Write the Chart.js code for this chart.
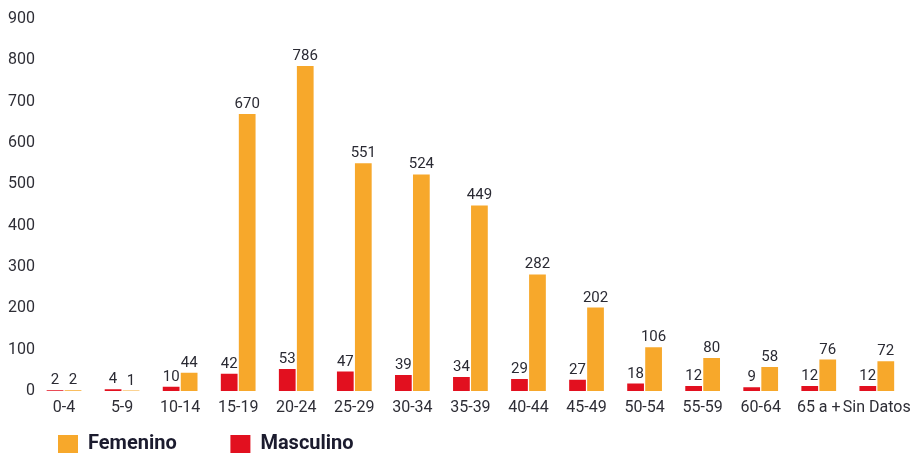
<!DOCTYPE html>
<html>
<head>
<meta charset="utf-8">
<script src="https://cdn.jsdelivr.net/npm/chart.js@4/dist/chart.umd.min.js"></script>
<style>
html,body{margin:0;padding:0;background:#fff;}
#wrap{width:918px;height:456px;}
</style>
</head>
<body>
<div id="wrap"><canvas id="c" width="918" height="456"></canvas></div>
<script>
const categories = ["0-4","5-9","10-14","15-19","20-24","25-29","30-34","35-39","40-44","45-49","50-54","55-59","60-64","65 a +","Sin Datos"];
const masculino = [2,4,10,42,53,47,39,34,29,27,18,12,9,12,12];
const femenino = [2,1,44,670,786,551,524,449,282,202,106,80,58,76,72];
const yTicks = [0,100,200,300,400,500,600,700,800,900];

const FONT = "Roboto, 'Liberation Sans', sans-serif";

const labelPlugin = {
  id: 'barLabels',
  afterDatasetsDraw(chart) {
    const ctx = chart.ctx;
    ctx.save();
    ctx.font = "15px " + FONT;
    ctx.fillStyle = '#2a2a33';
    ctx.textAlign = 'center';
    ctx.textBaseline = 'alphabetic';
    chart.data.datasets.forEach((ds, di) => {
      const meta = chart.getDatasetMeta(di);
      meta.data.forEach((bar, i) => {
        ctx.fillText(String(ds.data[i]), bar.x, bar.y - 6);
      });
    });
    ctx.restore();
  }
};

const legendShift = {
  id: 'legendShift',
  afterLayout(chart) {
    if (chart.legend) { chart.legend.left += 54; }
  }
};

new Chart(document.getElementById('c'), {
  type: 'bar',
  data: {
    labels: categories,
    datasets: [
      { label: 'Masculino', data: masculino, backgroundColor: '#E2101F', borderWidth: 0 },
      { label: 'Femenino', data: femenino, backgroundColor: '#F7A82B', borderWidth: 0 }
    ]
  },
  options: {
    responsive: false,
    animation: false,
    devicePixelRatio: 1,
    layout: { padding: { top: 19, right: 8, left: 0, bottom: -8 } },
    datasets: { bar: { categoryPercentage: 0.62, barPercentage: 0.93 } },
    plugins: {
      legend: {
        position: 'bottom',
        align: 'start',
        reverse: true,
        labels: {
          boxWidth: 20,
          boxHeight: 18,
          padding: 4,
          color: '#1b1b2e',
          font: { family: FONT, size: 20, weight: 'bold' },
          generateLabels(chart) {
            const items = Chart.defaults.plugins.legend.labels.generateLabels(chart);
            items.forEach(it => { it.text = it.text + '          '; it.lineWidth = 0; });
            return items;
          }
        }
      },
      tooltip: { enabled: false }
    },
    scales: {
      x: {
        afterFit(axis) { axis.height = 39; },
        grid: { display: false, drawTicks: false },
        border: { display: false },
        ticks: { color: '#2e2e36', font: { family: FONT, size: 16 }, padding: 7, maxRotation: 0, autoSkip: false }
      },
      y: {
        min: 0, max: 900,
        afterBuildTicks(axis) { axis.ticks = yTicks.map(v => ({ value: v })); },
        afterFit(axis) { axis.width = 35; },
        grid: { display: false, drawTicks: false },
        border: { display: false },
        ticks: { color: '#2e2e36', font: { family: FONT, size: 16 }, padding: 0 }
      }
    }
  },
  plugins: [labelPlugin, legendShift]
});
</script>
</body>
</html>
